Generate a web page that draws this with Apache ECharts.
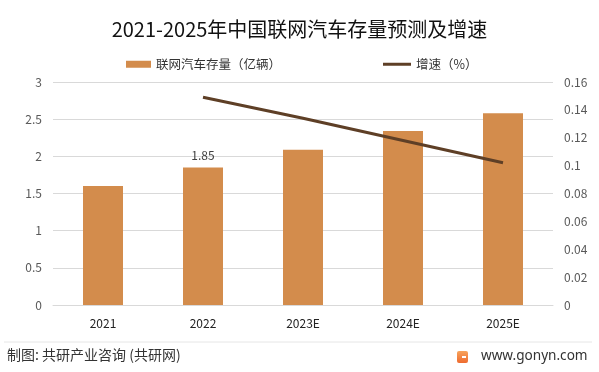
<!DOCTYPE html>
<html>
<head>
<meta charset="utf-8">
<script src="https://cdn.jsdelivr.net/npm/echarts@6/dist/echarts.min.js"></script>
<style>html,body{margin:0;padding:0;background:#fff;}#c{width:599px;height:372px;}</style>
</head>
<body>
<div id="c"></div>
<script>
var categories = ['2021', '2022', '2023E', '2024E', '2025E'];
var stockValues = [1.60, 1.85, 2.09, 2.34, 2.58];
var growthValues = [null, 0.149, 0.134, 0.118, 0.102];
var labeledIndex = 1;
var leftTicks = {min: 0, max: 3, interval: 0.5};
var rightTicks = {min: 0, max: 0.16, interval: 0.02};

var FONT = '"Noto Sans CJK SC", "Noto Sans", sans-serif';
var chart = echarts.init(document.getElementById('c'), null, {renderer: 'canvas'});
var barData = stockValues.map(function (v, i) {
  return i === labeledIndex ? {value: v, label: {show: true}} : v;
});
chart.setOption({
  backgroundColor: '#fff',
  animation: false,
  textStyle: {fontFamily: FONT},
  title: {
    text: '2021-2025年中国联网汽车存量预测及增速',
    left: 'center', top: 14,
    textStyle: {fontSize: 20, fontWeight: 'normal', color: '#111', fontFamily: FONT}
  },
  legend: [{
    data: [{name: '联网汽车存量（亿辆）', icon: 'rect'}],
    left: 121, top: 53, itemWidth: 25, itemHeight: 7, itemGap: 5,
    textStyle: {fontSize: 12.5, color: '#333', fontFamily: FONT}
  }, {
    data: [{name: '增速（%）', icon: 'rect', itemStyle: {color: '#5e3f26'}}],
    left: 378, top: 53, itemWidth: 28, itemHeight: 3, itemGap: 3,
    textStyle: {fontSize: 12.5, color: '#333', fontFamily: FONT}
  }],
  grid: {left: 53, right: 46, top: 82, bottom: 67},
  xAxis: {
    type: 'category', data: categories,
    axisLine: {show: true, lineStyle: {color: '#d9d9d9', width: 1}},
    axisTick: {show: false},
    axisLabel: {color: '#222', fontSize: 12, margin: 12, fontFamily: FONT}
  },
  yAxis: [{
    type: 'value', min: leftTicks.min, max: leftTicks.max, interval: leftTicks.interval,
    axisLine: {show: false}, axisTick: {show: false},
    splitLine: {lineStyle: {color: '#d9d9d9', width: 1}},
    axisLabel: {color: '#595959', fontSize: 12, margin: 11, fontFamily: FONT}
  }, {
    type: 'value', min: rightTicks.min, max: rightTicks.max, interval: rightTicks.interval,
    axisLine: {show: false}, axisTick: {show: false}, splitLine: {show: false},
    axisLabel: {color: '#595959', fontSize: 12, margin: 11, fontFamily: FONT,
      formatter: function (v) { return String(+v.toFixed(2)); }}
  }],
  series: [{
    name: '联网汽车存量（亿辆）', type: 'bar', data: barData, barWidth: 40,
    itemStyle: {color: '#d38c4c'},
    label: {show: false, position: 'top', distance: 6, color: '#404040', fontSize: 12, fontFamily: FONT}
  }, {
    name: '增速（%）', type: 'line', yAxisIndex: 1, data: growthValues,
    symbol: 'none', smooth: false,
    lineStyle: {color: '#5e3f26', width: 3},
    itemStyle: {color: '#5e3f26'}
  }],
  graphic: [
    {type: 'line', shape: {x1: 4, y1: 342, x2: 592, y2: 342}, style: {stroke: '#e6e6e6', lineWidth: 1}},
    {type: 'text', left: 7, top: 348, style: {text: '制图: 共研产业咨询 (共研网)', font: '14px ' + FONT, fill: '#333'}},
    {type: 'rect', shape: {x: 457, y: 351, width: 11, height: 12, r: 2},
      style: {fill: new echarts.graphic.LinearGradient(0, 0, 0, 1, [{offset: 0, color: '#f7a35c'}, {offset: 1, color: '#ee6b2f'}])}},
    {type: 'rect', shape: {x: 462, y: 356, width: 4, height: 2}, style: {fill: '#fff'}},
    {type: 'text', left: 481, top: 349, style: {text: 'www.gonyn.com', font: '13.6px "Noto Sans", sans-serif', fill: '#333'}}
  ]
});
</script>
</body>
</html>
